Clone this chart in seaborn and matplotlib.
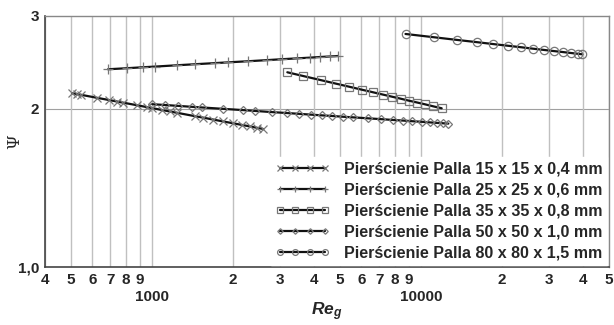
import numpy as np
import pandas as pd
import seaborn as sns
import matplotlib.pyplot as plt
import matplotlib.transforms as mtransforms
from matplotlib.ticker import FixedLocator, FixedFormatter, NullLocator

# Data (Re_g, Psi)
re_15 = [504, 526, 544, 624, 691, 741, 780, 879, 958, 1000, 1089, 1166, 1238,
         1444, 1546, 1685, 1836, 2000, 2160, 2313, 2456, 2585]
psi_15 = [2.140, 2.132, 2.125, 2.097, 2.077, 2.063, 2.053, 2.030, 2.013, 2.005,
          1.988, 1.975, 1.964, 1.935, 1.923, 1.907, 1.891, 1.876, 1.862, 1.850,
          1.839, 1.830]

re_25 = [686, 807, 925, 1026, 1238, 1444, 1714, 1916, 2274, 2676, 3043, 3459,
         3867, 4212, 4588, 4914]
psi_25 = [2.376, 2.387, 2.397, 2.404, 2.418, 2.429, 2.441, 2.449, 2.461, 2.473,
          2.483, 2.492, 2.500, 2.507, 2.513, 2.518]

re_35 = [3184, 3632, 4238, 4830, 5413, 6020, 6614, 7240, 7780, 8403, 9046, 9688,
         10349, 11110, 11936]
psi_35 = [2.345, 2.308, 2.266, 2.231, 2.201, 2.173, 2.149, 2.126, 2.108, 2.089,
          2.070, 2.054, 2.038, 2.020, 2.003]

re_50 = [1002, 1117, 1252, 1404, 1538, 1840, 2184, 2414, 2786, 3167, 3519, 3899,
         4274, 4656, 5141, 5602, 6336, 7100, 7889, 8596, 9235, 10060, 10800,
         11436, 12040, 12634]
psi_50 = [2.039, 2.032, 2.024, 2.016, 2.010, 1.998, 1.987, 1.980, 1.970, 1.962,
          1.955, 1.948, 1.942, 1.937, 1.930, 1.925, 1.917, 1.910, 1.903, 1.898,
          1.893, 1.888, 1.883, 1.879, 1.876, 1.873]

re_80 = [8756, 11206, 13587, 16157, 18571, 21118, 23627, 26090, 28590, 31170,
         33674, 36172, 38418, 39790]
psi_80 = [2.773, 2.733, 2.702, 2.675, 2.653, 2.633, 2.616, 2.600, 2.586, 2.573,
          2.562, 2.551, 2.542, 2.537]

labels = ['Pierścienie Palla 15 x 15 x 0,4 mm',
          'Pierścienie Palla 25 x 25 x 0,6 mm',
          'Pierścienie Palla 35 x 35 x 0,8 mm',
          'Pierścienie Palla 50 x 50 x 1,0 mm',
          'Pierścienie Palla 80 x 80 x 1,5 mm']

x_ticks = [400, 500, 600, 700, 800, 900, 1000, 2000, 3000, 4000, 5000, 6000,
           7000, 8000, 9000, 10000, 20000, 30000, 40000, 50000]
x_labels = ['4', '5', '6', '7', '8', '9', '', '2', '3', '4', '5', '6',
            '7', '8', '9', '', '2', '3', '4', '5']
decades = [1000, 10000]
y_ticks = [1.0, 2.0, 3.0]
y_labels = ['1,0', '2', '3']

sns.set_style('white')
plt.rcParams['font.family'] = ['Liberation Sans', 'DejaVu Sans']
plt.rcParams['mathtext.fontset'] = 'custom'
plt.rcParams['mathtext.it'] = 'Liberation Sans:italic:bold'
plt.rcParams['mathtext.rm'] = 'Liberation Sans:bold'

fig = plt.figure(figsize=(6.14, 3.25), dpi=100)
ax = fig.add_axes([0.0733, 0.1785, 0.9186, 0.7723])

series = [(re_15, psi_15, 'x', 6), (re_25, psi_25, '+', 7),
          (re_35, psi_35, 's', 5.5), (re_50, psi_50, 'D', 4),
          (re_80, psi_80, 'o', 6)]

for (xs, ys, mk, ms), lab in zip(series, labels):
    df = pd.DataFrame({'Re': xs, 'Psi': ys})
    sns.lineplot(data=df, x='Re', y='Psi', ax=ax, color='#111111', lw=1.6,
                 marker=mk, markersize=ms, markerfacecolor='none',
                 markeredgecolor='#777777', markeredgewidth=0.9, label=lab)

ax.set_xscale('log')
ax.set_yscale('log')
ax.set_xlim(400, 50000)
ax.set_ylim(1.0, 3.0)

ax.xaxis.set_major_locator(FixedLocator(x_ticks))
ax.xaxis.set_major_formatter(FixedFormatter(x_labels))
ax.xaxis.set_minor_locator(NullLocator())
ax.yaxis.set_major_locator(FixedLocator(y_ticks))
ax.yaxis.set_major_formatter(FixedFormatter(y_labels))
ax.yaxis.set_minor_locator(NullLocator())
ax.tick_params(axis='both', length=0, pad=4, labelsize=11)
for t in ax.get_xticklabels() + ax.get_yticklabels():
    t.set_fontweight('bold')

# decade labels on a second row, as in the original
trans = mtransforms.blended_transform_factory(ax.transData, ax.transAxes)
for d in decades:
    ax.text(d, -0.12, str(d), transform=trans, ha='center', va='center',
            fontsize=11, fontweight='bold')

ax.grid(True, axis='x', color='#c0c0c0', lw=1)
ax.axhline(2.0, color='#a0a0a0', lw=0.8, zorder=0)

for side in ['left', 'bottom']:
    ax.spines[side].set_color('#444444')
    ax.spines[side].set_linewidth(1.2)
for side in ['top', 'right']:
    ax.spines[side].set_color('#888888')
    ax.spines[side].set_linewidth(1.0)

ax.set_xlabel(r'$Re_g$', fontsize=12.5)
ax.xaxis.set_label_coords(0.5, -0.135)
ax.set_ylabel('Ψ', fontsize=12, family='DejaVu Serif')
ax.yaxis.set_label_coords(-0.038, 0.5)

leg = ax.legend(loc='lower right', frameon=True, fancybox=False,
                framealpha=1, edgecolor='white', numpoints=4, markerscale=0.7,
                handlelength=3.4, handletextpad=0.9, labelspacing=0.38,
                borderaxespad=0.1, borderpad=0.3,
                prop={'weight': 'bold', 'size': 11.5})
leg.set_zorder(5)

fig.savefig('out.png', dpi=100)
